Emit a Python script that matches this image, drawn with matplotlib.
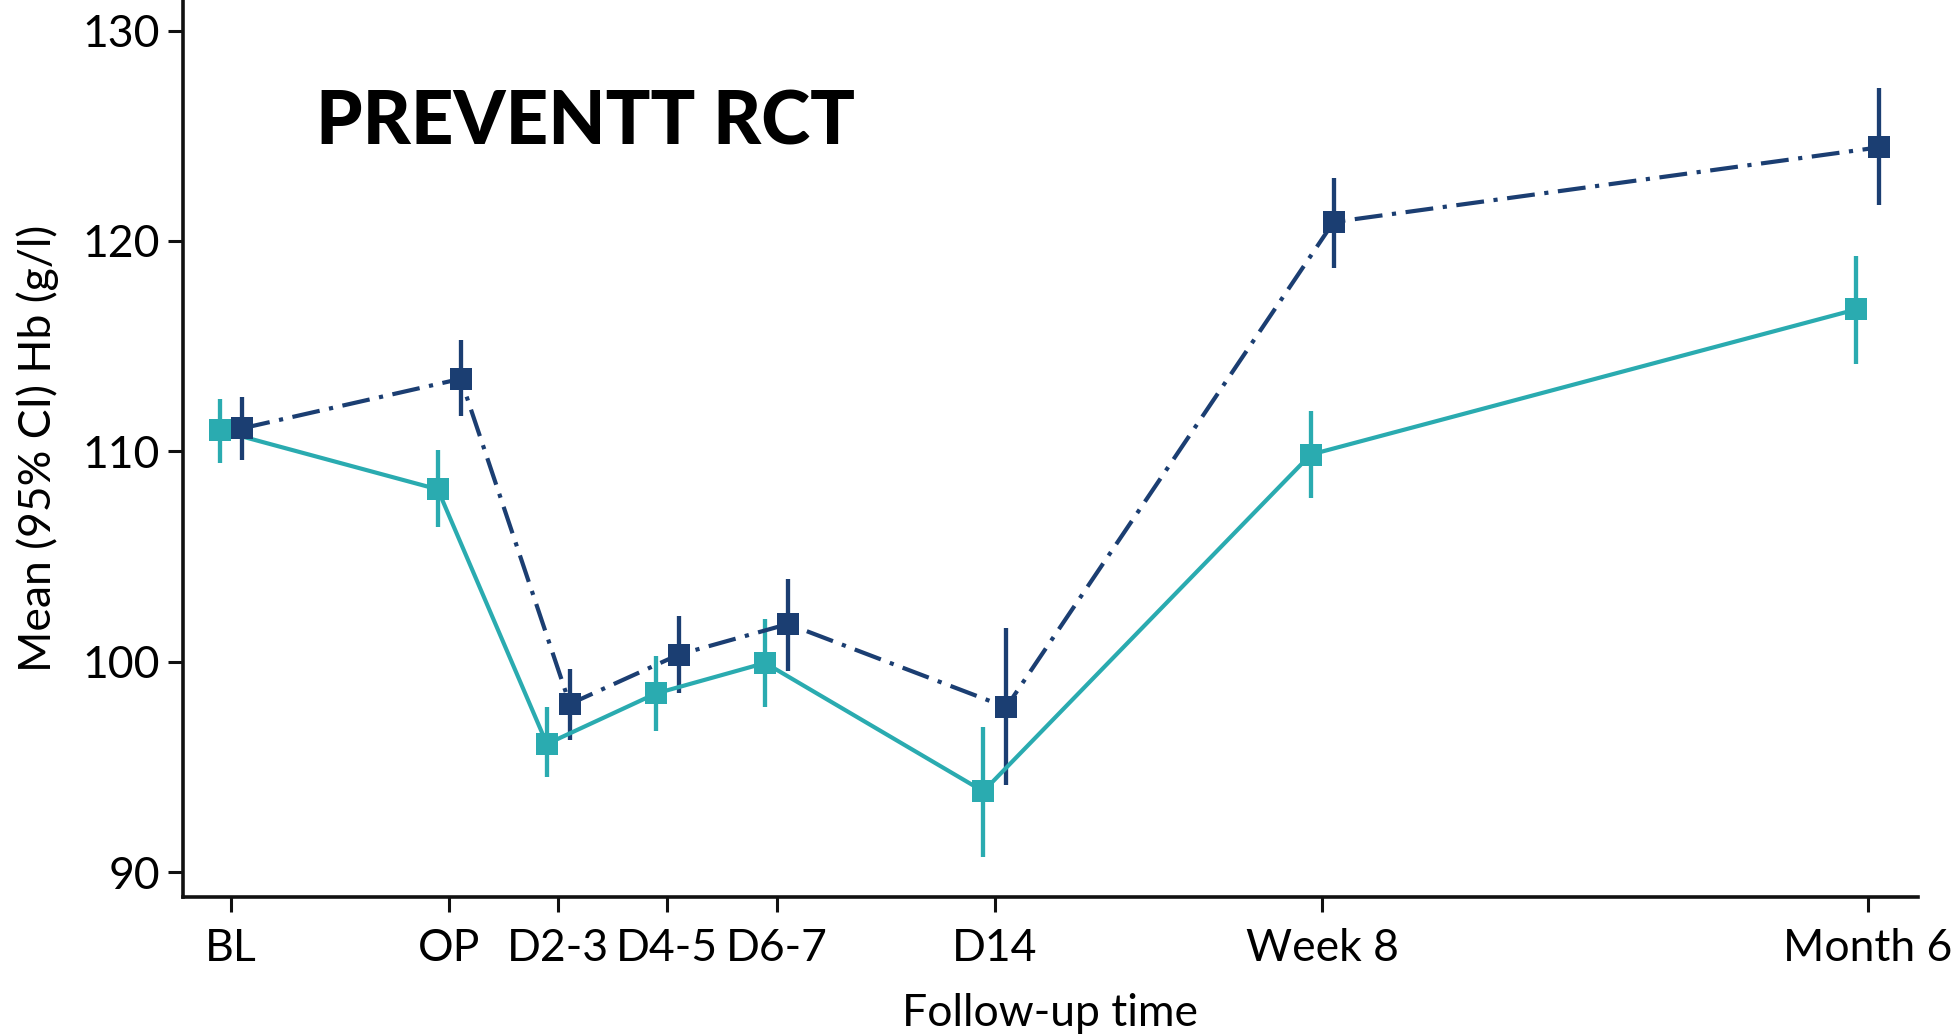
import matplotlib
matplotlib.use("Agg")
import matplotlib.pyplot as plt
import numpy as np

plt.rcParams["font.family"] = ["Lato", "DejaVu Sans"]

# Follow-up visits and their positions on the time axis
timepoints = ["BL", "OP", "D2-3", "D4-5", "D6-7", "D14", "Week 8", "Month 6"]
time_pos = [0, 2, 3, 4, 5, 7, 10, 15]

# Mean Hb (g/l) with 95% CI, teal group (solid line)
teal_mean = [111.0, 108.2, 96.1, 98.5, 99.95, 93.85, 109.85, 116.75]
teal_lo = [109.45, 106.4, 94.55, 96.7, 97.85, 90.75, 107.8, 114.15]
teal_hi = [112.5, 110.05, 97.85, 100.3, 102.05, 96.9, 111.9, 119.3]

# Mean Hb (g/l) with 95% CI, navy group (dash-dot line)
navy_mean = [111.1, 113.45, 98.0, 100.35, 101.8, 97.85, 120.9, 124.45]
navy_lo = [109.6, 111.7, 96.3, 98.5, 99.55, 94.15, 118.7, 121.7]
navy_hi = [112.6, 115.3, 99.65, 102.2, 103.95, 101.6, 123.0, 127.25]

yticks = [90, 100, 110, 120, 130]

TEAL = "#2AABB0"
NAVY = "#1B3E72"
offset = 0.105

fig = plt.figure(figsize=(19.57, 10.34), dpi=100)
ax = fig.add_axes([0.0935, 0.1325, 0.8865, 0.8675])

x = np.array(time_pos, dtype=float)

def draw_group(xs, mean, lo, hi, color, ls):
    mean = np.asarray(mean)
    yerr = np.vstack([mean - np.asarray(lo), np.asarray(hi) - mean])
    ax.errorbar(xs, mean, yerr=yerr, fmt="none", ecolor=color,
                elinewidth=3.1, capsize=0, zorder=2)
    ax.plot(xs, mean, color=color, lw=3.0, linestyle=ls, zorder=3)
    ax.plot(xs, mean, linestyle="none", marker="s", markersize=16.5,
            color=color, markeredgewidth=0, zorder=4)

draw_group(x - offset, teal_mean, teal_lo, teal_hi, TEAL, "-")
draw_group(x + offset, navy_mean, navy_lo, navy_hi, NAVY, (0, (6.7, 2.3, 1.0, 2.3)))

ax.set_xlim(-0.44, 15.46)
ax.set_ylim(88.83, 131.45)
ax.set_xticks(time_pos)
ax.set_xticklabels(timepoints)
ax.set_yticks(yticks)

for side in ("top", "right"):
    ax.spines[side].set_visible(False)
for side in ("left", "bottom"):
    ax.spines[side].set_linewidth(2.6)
    ax.spines[side].set_color("#111111")

ax.tick_params(axis="both", which="major", length=10.5, width=2.2,
               color="#111111", labelsize=32)
ax.tick_params(axis="x", pad=12)
ax.tick_params(axis="y", pad=6)

ax.set_xlabel("Follow-up time", fontsize=32, labelpad=17)
ax.set_ylabel("Mean (95% CI) Hb (g/l)", fontsize=32, labelpad=17)

ax.text(0.78, 124.6, "PREVENTT RCT", fontsize=53.5, fontweight="black",
        ha="left", va="baseline", color="black")

fig.savefig("out.png", dpi=100)
